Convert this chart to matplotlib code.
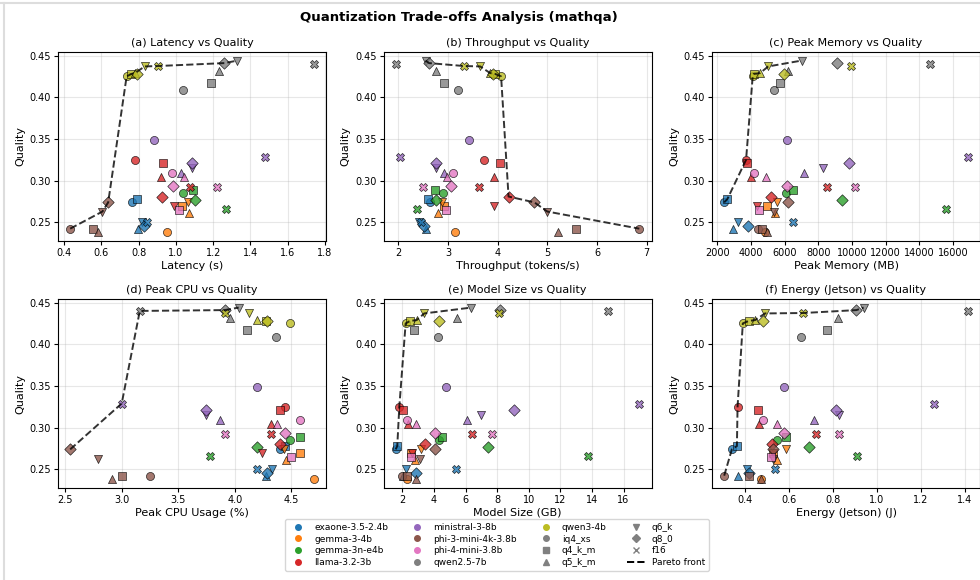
import numpy as np
import matplotlib
matplotlib.use('Agg')
import matplotlib.pyplot as plt
from matplotlib.lines import Line2D

nan = np.nan

models = ['exaone-3.5-2.4b', 'gemma-3-4b', 'gemma-3n-e4b', 'llama-3.2-3b', 'ministral-3-8b',
          'phi-3-mini-4k-3.8b', 'phi-4-mini-3.8b', 'qwen2.5-7b', 'qwen3-4b']
model_colors = ['tab:blue', 'tab:orange', 'tab:green', 'tab:red', 'tab:purple',
                'tab:brown', 'tab:pink', 'tab:gray', 'tab:olive']
quants = ['iq4_xs', 'q4_k_m', 'q5_k_m', 'q6_k', 'q8_0', 'f16']
quant_markers = ['o', 's', '^', 'v', 'D', 'X']

# rows = models, cols = quants
quality = [
    [0.274, 0.278, 0.242, 0.250, 0.246, 0.250],
    [0.238, 0.270, 0.261, 0.275, nan, nan],
    [0.285, 0.289, nan, nan, 0.277, 0.266],
    [0.325, 0.321, 0.305, 0.270, 0.281, 0.293],
    [0.349, nan, 0.309, 0.315, 0.321, 0.329],
    [0.2425, 0.2425, 0.2385, 0.263, 0.274, nan],
    [0.309, 0.265, 0.305, nan, 0.294, 0.293],
    [0.409, 0.417, 0.432, 0.444, 0.441, 0.440],
    [0.425, 0.428, 0.429, 0.437, 0.428, 0.4375],
]
latency = [
    [0.766, 0.789, 0.796, 0.82, 0.829, 0.843],
    [0.954, 1.03, 1.07, 1.065, nan, nan],
    [1.039, 1.093, nan, nan, 1.10, 1.27],
    [0.78, 0.932, 0.921, 0.99, 0.927, 1.075],
    [0.882, nan, 1.025, 1.087, 1.087, 1.48],
    [0.432, 0.552, 0.584, 0.605, 0.636, nan],
    [0.977, 1.016, 1.043, nan, 0.986, 1.218],
    [1.039, 1.189, 1.23, 1.33, 1.26, 1.74],
    [0.735, 0.76, 0.78, 0.832, 0.79, 0.905],
]
throughput = [
    [2.65, 2.59, 2.55, 2.42, 2.51, 2.46],
    [3.14, 2.93, 2.81, 2.88, nan, nan],
    [2.91, 2.75, nan, nan, 2.77, 2.37],
    [3.73, 4.05, 3.92, 3.92, 4.22, 3.63],
    [3.42, nan, 2.93, 2.77, 2.77, 2.04],
    [6.85, 5.57, 5.21, 5.0, 4.74, nan],
    [3.11, 2.97, 2.98, nan, 3.07, 2.5],
    [3.21, 2.92, 2.77, 2.55, 2.62, 1.95],
    [4.07, 3.95, 3.85, 3.65, 3.9, 3.32],
]
peak_memory = [
    [2400, 2590, 2910, 3200, 3840, 6470],
    [4850, 4925, 5400, 5560, nan, nan],
    [6050, 6500, nan, nan, 9430, 15560],
    [3700, 3780, 3976, 4330, 5160, 8520],
    [6150, nan, 7160, 8280, 9830, 16880],
    [4430, 4630, 4925, 5380, 6210, nan],
    [4190, 4490, 4885, nan, 6110, 10160],
    [5360, 5720, 6170, 7000, 9080, 14650],
    [4095, 4150, 4530, 5020, 5950, 9960],
]
peak_cpu = [
    [4.40, 4.447, 4.28, 4.33, 4.29, 4.197],
    [4.70, 4.574, 4.453, 4.44, nan, nan],
    [4.49, 4.574, nan, nan, 4.197, 3.785],
    [4.447, 4.40, 4.32, 4.24, 4.40, 4.32],
    [4.197, nan, 3.874, 3.747, 3.747, 3.0],
    [3.25, 3.006, 2.918, 2.794, 2.544, nan],
    [4.574, 4.5, 4.37, nan, 4.447, 3.918],
    [4.368, 4.109, 3.956, 4.035, 3.91, 3.16],
    [4.49, 4.28, 4.197, 4.124, 4.285, 3.91],
]
model_size = [
    [1.58, 1.68, 2.06, 2.21, 2.86, 5.38],
    [2.27, 2.55, 2.8, 3.18, nan, nan],
    [4.32, 4.53, nan, nan, 7.4, 13.73],
    [1.81, 2.06, 2.34, 2.59, 3.43, 6.43],
    [4.74, nan, 6.11, 6.98, 9.07, 17.0],
    [1.96, 2.27, 2.84, 3.12, 4.07, nan],
    [2.27, 2.55, 2.86, nan, 4.07, 7.7],
    [4.24, 2.76, 5.44, 6.35, 8.18, 15.04],
    [2.21, 2.49, 2.91, 3.39, 4.32, 8.14],
]
energy = [
    [0.338, 0.361, 0.364, 0.409, 0.414, 0.535],
    [0.47, 0.527, 0.542, 0.583, nan, nan],
    [0.545, 0.585, nan, nan, 0.689, 0.909],
    [0.364, 0.455, 0.464, 0.527, 0.52, 0.72],
    [0.577, nan, 0.712, 0.827, 0.812, 1.262],
    [0.303, 0.418, 0.47, 0.527, 0.527, nan],
    [0.479, 0.517, 0.542, nan, 0.577, 0.826],
    [0.652, 0.774, 0.82, 0.939, 0.906, 1.414],
    [0.388, 0.414, 0.444, 0.489, 0.48, 0.664],
]

panels = [
    ('(a) Latency vs Quality', 'Latency (s)', latency, False, None),
    ('(b) Throughput vs Quality', 'Throughput (tokens/s)', throughput, True, None),
    ('(c) Peak Memory vs Quality', 'Peak Memory (MB)', peak_memory, False, 2000),
    ('(d) Peak CPU vs Quality', 'Peak CPU Usage (%)', peak_cpu, False, None),
    ('(e) Model Size vs Quality', 'Model Size (GB)', model_size, False, 2),
    ('(f) Energy (Jetson) vs Quality', 'Energy (Jetson) (J)', energy, False, None),
]


def pareto_front(xs, ys, maximize_x):
    pts = [(x, y) for x, y in zip(xs, ys) if not (np.isnan(x) or np.isnan(y))]
    if maximize_x:
        pts.sort(key=lambda p: (-p[0], -p[1]))
    else:
        pts.sort(key=lambda p: (p[0], -p[1]))
    front = []
    best = -np.inf
    for x, y in pts:
        if y > best:
            front.append((x, y))
            best = y
    front.sort()
    return [p[0] for p in front], [p[1] for p in front]


plt.rcParams['font.size'] = 8
plt.rcParams['axes.titlesize'] = 8
plt.rcParams['axes.labelsize'] = 8
plt.rcParams['xtick.labelsize'] = 7
plt.rcParams['ytick.labelsize'] = 7

W, H = 980, 580
fig = plt.figure(figsize=(W / 100, H / 100), dpi=100)

lefts = [58, 383.5, 712]
bottoms = [241, 488]
aw, ah = 268, 189

q = np.array(quality, dtype=float)
for k, (title, xlabel, data, maximize, step) in enumerate(panels):
    row, col = divmod(k, 3)
    ax = fig.add_axes([lefts[col] / W, 1 - bottoms[row] / H, aw / W, ah / H])
    d = np.array(data, dtype=float)
    for i, color in enumerate(model_colors):
        for j, m in enumerate(quant_markers):
            if np.isnan(d[i, j]) or np.isnan(q[i, j]):
                continue
            ax.scatter(d[i, j], q[i, j], c=color, marker=m, s=34, alpha=0.8,
                       edgecolors='black', linewidths=0.5, zorder=2)
    fx, fy = pareto_front(d.ravel(), q.ravel(), maximize)
    ax.plot(fx, fy, 'k--', linewidth=1.4, alpha=0.8, zorder=3)
    ax.set_title(title, pad=4)
    ax.set_xlabel(xlabel, labelpad=2)
    ax.set_ylabel('Quality', labelpad=3)
    ax.grid(True, alpha=0.3)
    ax.tick_params(length=3, pad=2)
    if step:
        ax.xaxis.set_major_locator(plt.MultipleLocator(step))

fig.suptitle('Quantization Trade-offs Analysis (mathqa)', x=459 / W, y=1 - 17 / H,
             fontsize=9.5, fontweight='bold', va='center')

handles = []
labels = []
for name, color in zip(models, model_colors):
    handles.append(Line2D([], [], marker='o', linestyle='', markerfacecolor=color,
                          markeredgecolor=color, markersize=4))
    labels.append(name)
legend_markers = ['o', 's', '^', 'v', 'D', 'x']
for name, m in zip(quants, legend_markers):
    handles.append(Line2D([], [], marker=m, linestyle='', color='gray',
                          markerfacecolor='gray', markersize=4))
    labels.append(name)
handles.append(Line2D([], [], color='black', linestyle='--', linewidth=1.4))
labels.append('Pareto front')

fig.legend(handles, labels, loc='center', bbox_to_anchor=(497 / W, 1 - 545 / H),
           ncol=4, fontsize=6.5, frameon=True, handlelength=2, columnspacing=2.2,
           labelspacing=0.3, borderpad=0.4)

fig.add_artist(Line2D([0, 1], [1 - 3 / H, 1 - 3 / H], color='#dddddd', linewidth=1.5))
fig.add_artist(Line2D([4 / W, 4 / W], [0, 1 - 3 / H], color='#dddddd', linewidth=1.5))

fig.savefig('out.png', dpi=100)
